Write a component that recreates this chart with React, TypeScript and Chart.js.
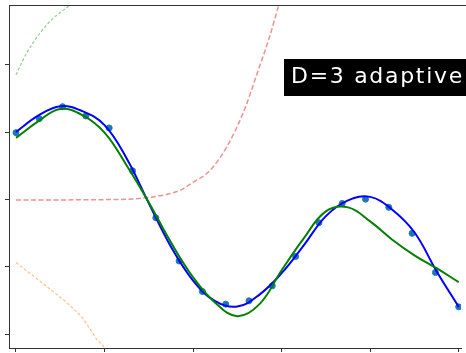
import React, { useEffect, useRef } from "react";
import { Chart, registerables } from "chart.js";

Chart.register(...registerables);

const sampleX = [0, 0.0526, 0.1053, 0.1579, 0.2105, 0.2632, 0.3158, 0.3684, 0.4211, 0.4737, 0.5263, 0.5789, 0.6316, 0.6842, 0.7368, 0.7895, 0.8421, 0.8947, 0.9474, 1.0];
const sampleY = [0.496, 0.6, 0.689, 0.62, 0.531, 0.213, -0.136, -0.457, -0.684, -0.778, -0.753, -0.642, -0.424, -0.173, -0.03, 0.002, -0.059, -0.252, -0.543, -0.798];

const curveX = [0, 0.05, 0.1, 0.15, 0.2, 0.25, 0.3, 0.35, 0.4, 0.45, 0.5, 0.55, 0.6, 0.65, 0.7, 0.75, 0.8, 0.85, 0.9, 0.95, 1.0];
const adaptiveY = [0.501, 0.622, 0.693, 0.656, 0.552, 0.304, -0.028, -0.351, -0.603, -0.756, -0.796, -0.707, -0.548, -0.341, -0.124, -0.007, 0.019, -0.076, -0.244, -0.533, -0.798];
const polyY = [0.457, 0.58, 0.672, 0.626, 0.496, 0.252, -0.022, -0.319, -0.578, -0.767, -0.867, -0.778, -0.526, -0.289, -0.089, -0.059, -0.163, -0.299, -0.415, -0.511, -0.615];

const basisGreenX = [0, 0.024, 0.054, 0.084, 0.122, 0.16];
const basisGreenY = [0.926, 1.087, 1.235, 1.346, 1.444, 1.56];

const basisRedX = [0, 0.235, 0.325, 0.37, 0.4, 0.438, 0.475, 0.513, 0.55, 0.573, 0.593, 0.611];
const basisRedY = [-0.004, 0.0, 0.027, 0.067, 0.126, 0.215, 0.385, 0.642, 0.987, 1.21, 1.437, 1.63];

const basisOrangeX = [0, 0.039, 0.077, 0.114, 0.152, 0.182, 0.199, 0.22];
const basisOrangeY = [-0.469, -0.568, -0.667, -0.765, -0.889, -1.037, -1.099, -1.25];

const xTicks = [0, 0.2, 0.4, 0.6, 0.8, 1.0];
const yTicks = [-1.0, -0.5, 0, 0.5, 1.0];

const labelText = "D=3 adaptive";

const zip = (xs: number[], ys: number[]) => xs.map((x, i) => ({ x, y: ys[i] }));

const overlayPlugin = {
  id: "overlay",
  afterDraw(chart: any) {
    const { ctx, chartArea } = chart;
    ctx.save();
    ctx.strokeStyle = "#333333";
    ctx.lineWidth = 1;
    ctx.beginPath();
    ctx.moveTo(chartArea.left, Math.round(chartArea.top) + 0.5);
    ctx.lineTo(chart.width, Math.round(chartArea.top) + 0.5);
    ctx.stroke();
    ctx.fillStyle = "#000000";
    const bx = 284;
    const by = 59;
    ctx.fillRect(bx, by, chart.width - bx + 10, 37);
    ctx.fillStyle = "#ffffff";
    ctx.font = "22px 'DejaVu Sans'";
    ctx.textBaseline = "alphabetic";
    (ctx as any).letterSpacing = "1.7px";
    ctx.fillText(labelText, 291, 83);
    ctx.restore();
  },
};

const noPad = (s: any) => {
  s.paddingLeft = 0;
  s.paddingRight = 0;
  s.paddingTop = 0;
  s.paddingBottom = 0;
};

export default function App() {
  const ref = useRef<HTMLCanvasElement>(null);
  useEffect(() => {
    if (!ref.current) return;
    const line = (data: any, color: string, width: number, dash: number[], order: number, smooth: any) => ({
      type: "line" as const,
      data,
      borderColor: color,
      borderWidth: width,
      borderDash: dash,
      pointRadius: 0,
      fill: false,
      order,
      ...smooth,
    });
    const mono = { cubicInterpolationMode: "monotone" };
    const bez = { tension: 0.4 };
    const chart = new Chart(ref.current, {
      type: "scatter",
      data: {
        datasets: [
          line(zip(basisGreenX, basisGreenY), "rgba(44,160,44,0.5)", 1.2, [3, 2], 6, mono),
          line(zip(basisRedX, basisRedY), "rgba(214,39,40,0.5)", 1.5, [5, 2.5], 5, mono),
          line(zip(basisOrangeX, basisOrangeY), "rgba(255,127,14,0.5)", 1.2, [3, 2], 4, mono),
          {
            type: "scatter" as const,
            data: zip(sampleX, sampleY),
            backgroundColor: "#1f77b4",
            borderColor: "#1f77b4",
            pointRadius: 3,
            order: 3,
          },
          line(zip(curveX, adaptiveY), "#0000ff", 2, [], 2, bez),
          line(zip(curveX, polyY), "#008000", 2, [], 1, bez),
        ] as any,
      },
      options: {
        animation: false,
        responsive: false,
        layout: { padding: { left: 5, top: 5, right: 0, bottom: 0 } },
        plugins: { legend: { display: false }, tooltip: { enabled: false } },
        scales: {
          x: {
            type: "linear",
            min: -0.0158,
            max: 1.0052,
            afterBuildTicks: (s: any) => {
              s.ticks = xTicks.map((v) => ({ value: v }));
            },
            afterFit: noPad,
            ticks: { display: false },
            grid: { drawOnChartArea: false, drawTicks: true, tickLength: 4, color: "#333333", lineWidth: 1 },
            border: { display: true, color: "#333333", width: 1 },
          },
          y: {
            type: "linear",
            min: -1.1037,
            max: 1.4444,
            afterBuildTicks: (s: any) => {
              s.ticks = yTicks.map((v) => ({ value: v }));
            },
            afterFit: noPad,
            ticks: { display: false },
            grid: { drawOnChartArea: false, drawTicks: true, tickLength: 4, color: "#333333", lineWidth: 1 },
            border: { display: true, color: "#333333", width: 1 },
          },
        },
      },
      plugins: [overlayPlugin],
    });
    return () => chart.destroy();
  }, []);
  return (
    <div style={{ position: "absolute", left: 0, top: 0, width: 466, height: 353, overflow: "hidden", background: "#fff" }}>
      <canvas ref={ref} width={466} height={353} />
    </div>
  );
}
